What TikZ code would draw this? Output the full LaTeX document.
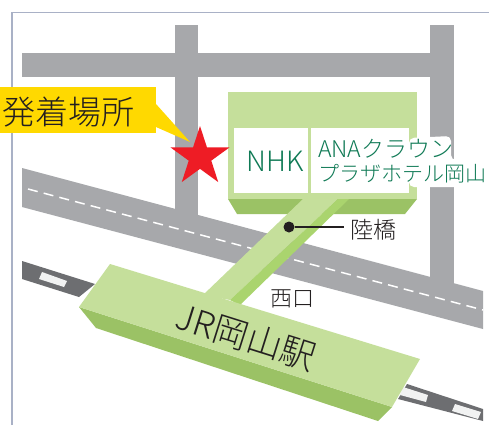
\documentclass[tikz,border=0pt]{standalone}
\usepackage{fontspec}
\setmainfont{Noto Sans CJK JP Light}
\usetikzlibrary{shapes.geometric}
\definecolor{roadc}{HTML}{A7A8AB}
\definecolor{framec}{HTML}{A9B1C6}
\definecolor{lgreen}{HTML}{C5DF9B}
\definecolor{dgreen}{HTML}{9BC265}
\definecolor{sgreen}{HTML}{AAD46E}
\definecolor{ylw}{HTML}{FFD900}
\definecolor{starc}{HTML}{EE1C25}
\definecolor{railc}{HTML}{6D6E71}
\definecolor{winc}{HTML}{F1F2F2}
\definecolor{tgreen}{HTML}{0F7A55}
\definecolor{tdark}{HTML}{231F20}
\tikzset{
  road/.style={fill=roadc,draw=none},
  label/.style={inner sep=0pt,text=tdark,font=\fontsize{#1}{#1}\selectfont},
  glabel/.style={inner sep=0pt,anchor=base west,text=tgreen,font=\fontsize{#1}{#1}\selectfont},
}
\begin{document}
\begin{tikzpicture}[x=1pt,y=-1pt]
\useasboundingbox (0,0) rectangle (489,425);
\fill[white] (0,0) rectangle (489,425);
\draw[framec,line width=1.7pt] (12,425) -- (12,12.5) -- (489,12.5);
% roads
\fill[road] (22,53) rectangle (454,77);
\fill[road] (175,25) rectangle (198,215);
\fill[road] (430,25) rectangle (454,290);
\fill[road] (22,168) -- (483,291) -- (483,329) -- (22,207) -- cycle;
\draw[white,line width=1.5pt,dash pattern=on 10pt off 6.2pt] (28,189) -- (483,310);
% rails
\fill[railc] (22,261) -- (95,284) -- (79,297) -- (22,279) -- cycle;
\fill[railc] (407,384) -- (483,409) -- (483,421) -- (398,399) -- cycle;
\fill[winc] (42,272) -- (67,281) -- (64,287) -- (39,279) -- cycle;
\fill[winc] (403,387) -- (428,395) -- (426,402) -- (400,395) -- cycle;
\fill[winc] (455,404) -- (481,412) -- (478,419) -- (452,411) -- cycle;
% building
\fill[dgreen] (228,199) -- (417,199) -- (405,214) -- (237,214) -- cycle;
\fill[lgreen] (228,92) rectangle (417,199);
\fill[white] (234,128) rectangle (308,193);
\fill[white] (311,128) rectangle (409,193);
% bridge
\fill[lgreen] (303,199) -- (338,199) -- (230,300) -- (203,295) -- cycle;
\fill[sgreen] (338,199) -- (349,199) -- (240,305) -- (230,300) -- cycle;
% station
\fill[dgreen] (79,307) -- (392,407) -- (378,421) -- (96,328) -- cycle;
\fill[lgreen] (110,264) -- (420,359) -- (392,407) -- (79,307) -- cycle;
% callout
\fill[ylw] (0,87) rectangle (156,133);
\fill[ylw] (156,104) -- (190,142) -- (156,127) -- cycle;
\node[star,star points=5,star point ratio=2.618,fill=starc,draw=none,inner sep=0pt,minimum size=62pt] (mark) at (200,157) {};
% halo
\fill[white,rounded corners=5pt] (409,138) -- (451,136) -- (451,160) -- (488,160) -- (488,187) -- (409,187) -- cycle;
% texts
\node[label=33] (hatchaku) at (68,112) {発着場所};
\node[inner sep=0pt,text=tgreen,font=\fontsize{28}{28}\selectfont] (nhk) at (275,161) {NHK};
\node[glabel=23] (ana) at (318,157) {ANAクラウン};
\node[glabel=21] (hotel) at (318,181) {プラザホテル岡山};
\node[label=23] (rikkyo) at (373,230) {陸橋};
\node[label=22] (nishi) at (292,299) {西口};
\node[label=35,rotate=-17.5] (station) at (246,337) {JR岡山駅};
% leader
\node[circle,fill=tdark,draw=none,inner sep=0pt,minimum size=11pt] (dot) at (289,227) {};
\draw[tdark,line width=1.1pt] (dot) -- ([xshift=-6pt]rikkyo.west |- dot);
\end{tikzpicture}
\end{document}
